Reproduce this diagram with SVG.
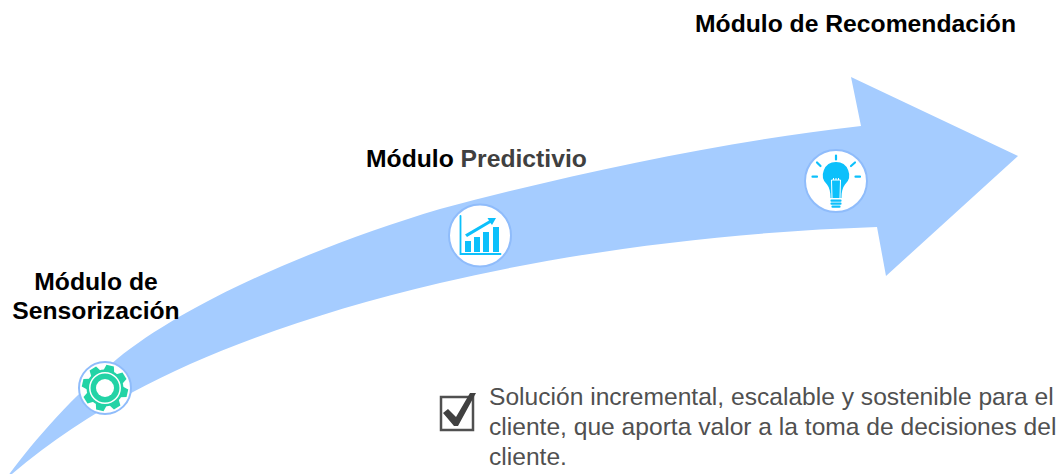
<svg xmlns="http://www.w3.org/2000/svg" width="1064" height="474" viewBox="0 0 1064 474">
<style>
.h{font:bold 24.700px "Liberation Sans",Arial,sans-serif;fill:#000}
.b{font:24.600px "Liberation Sans",Arial,sans-serif;fill:#505050}
.disc{fill:#fff;stroke:#8fbcfb;stroke-width:2}
.ic{fill:#0cc0fb}
.icl{stroke:#0cc0fb;fill:none;stroke-linecap:round}
.g{fill:#22d3a6}
</style>
<defs>
<path id="tooth" d="M-5.500 -17L-3.800 -23H3.800L5.500 -17Z"/>
</defs>
<rect width="1064" height="474" fill="#fff"/>
<g id="connectors">
<path id="arrow" d="M5 480 C30 445 72 397 117 359 C190 300 320 245 440 209 C580 172 720 142 861 126 L851 77 L1018 156 L886 276 L877 227 C730 232 580 250 440 283 C320 311 210 350 133 392 C90 415 45 445 5 480 Z" fill="#a5ccff"/>
</g>
<g id="node-sensorizacion">
<text class="h" x="96" y="290" text-anchor="middle">Módulo de</text>
<text class="h" x="96" y="319" text-anchor="middle">Sensorización</text>
<circle class="disc" cx="105" cy="388" r="26"/>
<circle class="g" cx="105" cy="388" r="18.500"/>
<g class="g" transform="translate(105 388)">
<use href="#tooth" transform="rotate(13)"/>
<use href="#tooth" transform="rotate(58)"/>
<use href="#tooth" transform="rotate(103)"/>
<use href="#tooth" transform="rotate(148)"/>
<use href="#tooth" transform="rotate(193)"/>
<use href="#tooth" transform="rotate(238)"/>
<use href="#tooth" transform="rotate(283)"/>
<use href="#tooth" transform="rotate(328)"/>
</g>
<circle cx="105" cy="388" r="15.200" fill="none" stroke="#fff" stroke-width="1.500"/>
<circle cx="105" cy="388" r="9" fill="#fff"/>
</g>
<g id="node-predictivo">
<text class="h" x="366" y="167">Módulo <tspan fill="#404040">Predictivio</tspan></text>
<circle class="disc" cx="480" cy="235.500" r="31"/>
<path class="icl" stroke-width="1.800" d="M460.500 216V254H500.500"/>
<rect class="ic" x="465" y="241" width="6" height="11"/>
<rect class="ic" x="474" y="237" width="6" height="15"/>
<rect class="ic" x="483" y="232" width="6" height="20"/>
<rect class="ic" x="493" y="227" width="6" height="25"/>
<path class="ic" d="M465 234.500L489 220.500L487.500 218L496 218L492 225L490.500 223L467 237Z"/>
</g>
<g id="node-recomendacion">
<text class="h" x="695" y="32">Módulo de Recomendación</text>
<circle class="disc" cx="836" cy="181" r="31"/>
<path class="ic" d="M836 162A13 13 0 0 1 845 184.500C842.500 187.500 841.500 192 841.500 198H830.500C830.500 192 829.500 187.500 827 184.500A13 13 0 0 1 836 162Z"/>
<path d="M832 198L831.500 180H840.500L840 198M833.500 180V178M836 180V178M838.500 180V178" stroke="#fff" stroke-width="1" fill="none"/>
<path class="icl" stroke-width="2.200" d="M831.500 200.700H840.500M831.500 203.700H840.500M832.500 206.700H839.500M836 155.500V159.500M817 162.500L820.500 166M855 162.500L851 166M812.500 176.700H817M855.500 176.700H860"/>
</g>
<g id="note">
<rect x="441" y="397" width="32" height="33" fill="none" stroke="#505050" stroke-width="2.500"/>
<path d="M443 413L448 409L456 417L470 393L476 393L458 426H454Z" fill="#404040"/>
<text class="b" x="489" y="405">Solución incremental, escalable y sostenible para el</text>
<text class="b" x="489" y="435">cliente, que aporta valor a la toma de decisiones del</text>
<text class="b" x="489" y="465">cliente.</text>
</g>
</svg>
